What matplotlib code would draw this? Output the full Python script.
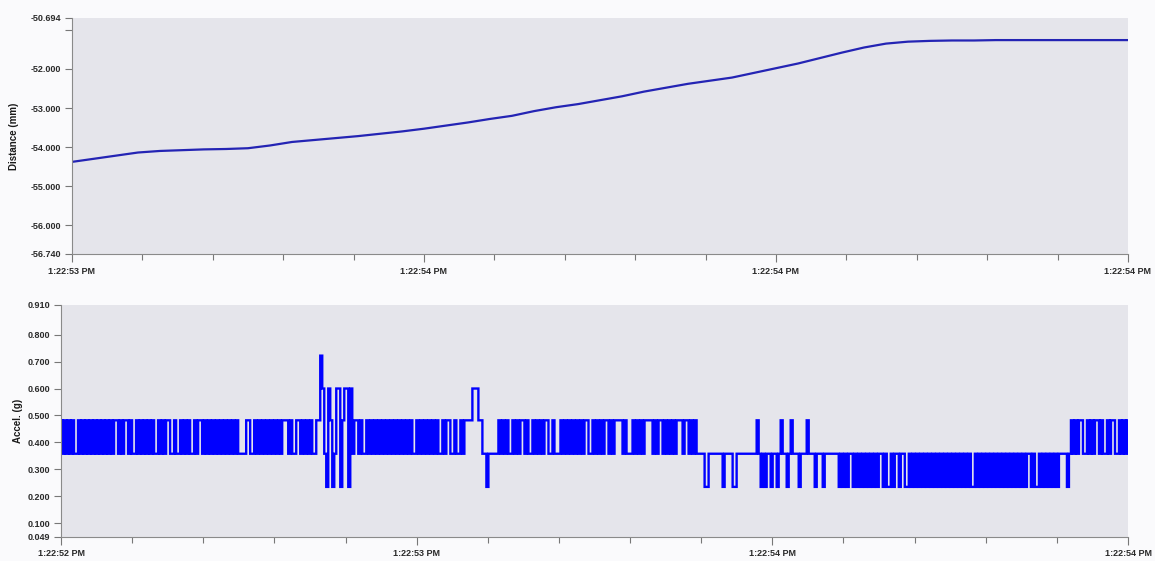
import numpy as np
import matplotlib
matplotlib.use("Agg")
import matplotlib.pyplot as plt
from matplotlib.ticker import FixedLocator, NullFormatter

# ---- data ---------------------------------------------------------------
# Probe distance, sampled at equal time steps across the upper window (mm)
distance_mm = [
    -54.38, -54.30, -54.22, -54.14, -54.10, -54.08, -54.06, -54.05, -54.03,
    -53.96, -53.87, -53.82, -53.77, -53.72, -53.66, -53.60, -53.53, -53.45,
    -53.37, -53.28, -53.20, -53.08, -52.98, -52.90, -52.80, -52.70, -52.58,
    -52.48, -52.38, -52.30, -52.22, -52.10, -51.98, -51.86, -51.72, -51.58,
    -51.45, -51.35, -51.30, -51.28, -51.27, -51.27, -51.26, -51.26, -51.26,
    -51.26, -51.26, -51.26, -51.26,
]

# Quantised accelerometer output levels (g)
accel_levels_g = [0.235, 0.358, 0.482, 0.600, 0.722]

# Accelerometer trace, one level index per sample
accel_trace = (
    "2121212112" "1212121212" "1212121221" "2122121121" "2121212112"
    "1212211211" "2121211212" "2121212121" "2121212121" "1112211212"
    "1212121212" "1222121122" "1212121122" "4310320133" "0233031221"
    "2112121212" "1212121212" "1212121121" "2121212121" "1212211211"
    "2122223332" "2110111112" "1212112121" "2212112121" "2122112111"
    "2121212121" "2122112121" "2122121222" "2121112121" "2122221212"
    "2121212122" "2122121211" "1100111111" "1011110011" "1111111121"
    "0101101101" "2110121110" "1112111011" "1011111110" "1010110101"
    "0101010101" "1010010110" "1100101010" "1010101010" "1010101010"
    "1010100101" "0101010101" "0101010101" "0101101001" "0101010101"
    "1110121212" "2112121221" "2112122112" "1212"
)

distance_ticks = [-56.74, -56.0, -55.0, -54.0, -53.0, -52.0, -51.0, -50.694]
distance_tick_labels = ["-56.740", "-56.000", "-55.000", "-54.000",
                        "-53.000", "-52.000", "", "-50.694"]
accel_ticks = [0.049, 0.1, 0.2, 0.3, 0.4, 0.5, 0.6, 0.7, 0.8, 0.91]
accel_tick_labels = ["0.049", "0.100", "0.200", "0.300", "0.400", "0.500",
                     "0.600", "0.700", "0.800", "0.910"]
distance_time_labels = ["1:22:53 PM", "1:22:54 PM", "1:22:54 PM", "1:22:54 PM"]
accel_time_labels = ["1:22:52 PM", "1:22:53 PM", "1:22:54 PM", "1:22:54 PM"]

accel_g = [accel_levels_g[int(c)] for c in accel_trace]

# ---- styling ------------------------------------------------------------
plt.rcParams["font.family"] = ["Liberation Sans", "DejaVu Sans"]
W, H = 1155, 561
fig = plt.figure(figsize=(W / 100, H / 100), dpi=100, facecolor="#fafafc")

ax1 = fig.add_axes([72 / W, 1 - 254 / H, (1128 - 72) / W, (254 - 18) / H])
ax2 = fig.add_axes([61 / W, 1 - 537 / H, (1128 - 61) / W, (537 - 305) / H])


def style_axis(ax, n, yticks, ylabels, xlabels, ylabel, ylabel_x):
    ax.set_facecolor("#e5e5eb")
    for side in ("top", "right"):
        ax.spines[side].set_visible(False)
    for side in ("left", "bottom"):
        ax.spines[side].set_color("#8a8a8a")
        ax.spines[side].set_linewidth(0.8)
    span = n - 1
    ax.set_xlim(0, span)
    major = [span * k / 3 for k in range(4)]
    minor = [span * k / 15 for k in range(16)]
    ax.xaxis.set_major_locator(FixedLocator(major))
    ax.xaxis.set_minor_locator(FixedLocator(minor))
    ax.set_xticklabels(xlabels)
    ax.xaxis.set_minor_formatter(NullFormatter())
    ax.set_yticks(yticks)
    ax.set_yticklabels(ylabels)
    ax.set_ylim(yticks[0], yticks[-1])
    ax.tick_params(axis="both", which="both", direction="out", colors="#777777",
                   labelcolor="#2a2a2a", labelsize=6.5, width=0.8)
    ax.tick_params(axis="x", which="major", length=6, pad=3)
    ax.tick_params(axis="x", which="minor", length=4)
    ax.tick_params(axis="y", which="major", length=5, pad=3)
    for lab in ax.get_xticklabels() + ax.get_yticklabels():
        lab.set_fontweight("bold")
    ax.set_ylabel(ylabel, fontsize=7, fontweight="bold", color="#1a1a1a")
    ax.yaxis.set_label_coords(ylabel_x, 0.5)


# Upper panel: distance
ax1.plot(np.arange(len(distance_mm)), distance_mm, color="#2424b4", lw=1.6)
style_axis(ax1, len(distance_mm), distance_ticks, distance_tick_labels,
           distance_time_labels, "Distance (mm)", -0.050)

# Lower panel: acceleration
ax2.plot(np.arange(len(accel_g)), accel_g, color="#0000ff", lw=1.7,
         drawstyle="steps-mid", solid_joinstyle="miter")
style_axis(ax2, len(accel_g), accel_ticks, accel_tick_labels,
           accel_time_labels, "Accel. (g)", -0.036)

fig.savefig("out.png", dpi=100, facecolor=fig.get_facecolor())
